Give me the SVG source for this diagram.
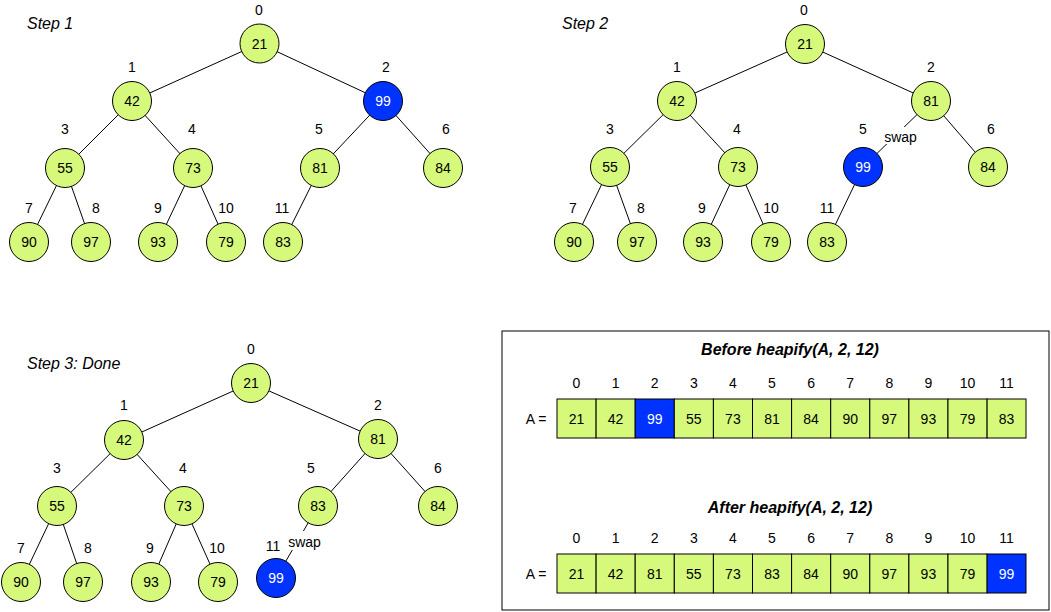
<svg xmlns="http://www.w3.org/2000/svg" width="1051" height="612" viewBox="0 0 1051 612">
<style>
.g{fill:#d6f97c;stroke:#000;stroke-width:1}
.b{fill:#0033ff;stroke:#000;stroke-width:1}
.e{stroke:#000;stroke-width:1;fill:none}
text{font-family:"Liberation Sans",Arial,sans-serif;font-size:14px;text-anchor:middle;fill:#000}
.wt{fill:#fff}
.ttl{font-size:16px;font-style:italic;text-anchor:start}
.hd{font-size:16px;font-style:italic;font-weight:bold}
.bg{fill:#fff;stroke:none}
.box{fill:#fff;stroke:#000;stroke-width:1}
</style>
<rect width="1051" height="612" fill="#fff"/>
<text class="ttl" x="27" y="29">Step 1</text>
<text class="ttl" x="562" y="29">Step 2</text>
<text class="ttl" x="27" y="369">Step 3: Done</text>
<g id="connectors">
<!-- step 1 -->
<line class="e" x1="259.5" y1="43.5" x2="132" y2="101"/>
<line class="e" x1="259.5" y1="43.5" x2="383" y2="101"/>
<line class="e" x1="132" y1="101" x2="65" y2="168"/>
<line class="e" x1="132" y1="101" x2="193" y2="168"/>
<line class="e" x1="383" y1="101" x2="320" y2="168"/>
<line class="e" x1="383" y1="101" x2="443" y2="168"/>
<line class="e" x1="65" y1="168" x2="29" y2="242"/>
<line class="e" x1="65" y1="168" x2="91" y2="242"/>
<line class="e" x1="193" y1="168" x2="158" y2="242"/>
<line class="e" x1="193" y1="168" x2="226" y2="242"/>
<line class="e" x1="320" y1="168" x2="283" y2="242"/>
<!-- step 2 -->
<line class="e" x1="805" y1="44" x2="677" y2="101"/>
<line class="e" x1="805" y1="44" x2="931" y2="101"/>
<line class="e" x1="677" y1="101" x2="610" y2="167"/>
<line class="e" x1="677" y1="101" x2="738" y2="167"/>
<line class="e" x1="931" y1="101" x2="863" y2="167"/>
<line class="e" x1="931" y1="101" x2="988" y2="167"/>
<line class="e" x1="610" y1="167" x2="574" y2="242"/>
<line class="e" x1="610" y1="167" x2="637" y2="242"/>
<line class="e" x1="738" y1="167" x2="703" y2="242"/>
<line class="e" x1="738" y1="167" x2="771" y2="242"/>
<line class="e" x1="863" y1="167" x2="827" y2="242"/>
<rect class="bg" x="883" y="127" width="35" height="17"/>
<text x="900.5" y="142">swap</text>
<!-- step 3 -->
<line class="e" x1="251" y1="383" x2="124" y2="440"/>
<line class="e" x1="251" y1="383" x2="378" y2="439"/>
<line class="e" x1="124" y1="440" x2="57" y2="506"/>
<line class="e" x1="124" y1="440" x2="184" y2="506"/>
<line class="e" x1="378" y1="439" x2="318" y2="506"/>
<line class="e" x1="378" y1="439" x2="438" y2="506"/>
<line class="e" x1="57" y1="506" x2="21" y2="582"/>
<line class="e" x1="57" y1="506" x2="83" y2="582"/>
<line class="e" x1="184" y1="506" x2="151" y2="582"/>
<line class="e" x1="184" y1="506" x2="218" y2="582"/>
<line class="e" x1="318" y1="506" x2="276" y2="578"/>
<rect class="bg" x="287" y="531" width="35" height="19"/>
<text x="304.5" y="547">swap</text>
</g>
<!-- Step 1 nodes -->
<g id="s1n0"><circle class="g" cx="259.5" cy="43.5" r="19.5"/><text x="259.5" y="48.5">21</text><text x="259" y="15">0</text></g>
<g id="s1n1"><circle class="g" cx="132" cy="101" r="19.5"/><text x="132" y="106">42</text><text x="132" y="72">1</text></g>
<g id="s1n2"><circle class="b" cx="383" cy="101" r="19.5"/><text class="wt" x="383" y="106">99</text><text x="386" y="72">2</text></g>
<g id="s1n3"><circle class="g" cx="65" cy="168" r="19.5"/><text x="65" y="173">55</text><text x="65" y="134">3</text></g>
<g id="s1n4"><circle class="g" cx="193" cy="168" r="19.5"/><text x="193" y="173">73</text><text x="192" y="134">4</text></g>
<g id="s1n5"><circle class="g" cx="320" cy="168" r="19.5"/><text x="320" y="173">81</text><text x="319" y="134">5</text></g>
<g id="s1n6"><circle class="g" cx="443" cy="168" r="19.5"/><text x="443" y="173">84</text><text x="446" y="134">6</text></g>
<g id="s1n7"><circle class="g" cx="29" cy="242" r="19.5"/><text x="29" y="247">90</text><text x="29" y="213">7</text></g>
<g id="s1n8"><circle class="g" cx="91" cy="242" r="19.5"/><text x="91" y="247">97</text><text x="96" y="213">8</text></g>
<g id="s1n9"><circle class="g" cx="158" cy="242" r="19.5"/><text x="158" y="247">93</text><text x="158" y="213">9</text></g>
<g id="s1n10"><circle class="g" cx="226" cy="242" r="19.5"/><text x="226" y="247">79</text><text x="226" y="213">10</text></g>
<g id="s1n11"><circle class="g" cx="283" cy="242" r="19.5"/><text x="283" y="247">83</text><text x="282" y="213">11</text></g>
<!-- Step 2 nodes -->
<g id="s2n0"><circle class="g" cx="805" cy="44" r="19.5"/><text x="805" y="49">21</text><text x="804" y="15">0</text></g>
<g id="s2n1"><circle class="g" cx="677" cy="101" r="19.5"/><text x="677" y="106">42</text><text x="677" y="72">1</text></g>
<g id="s2n2"><circle class="g" cx="931" cy="101" r="19.5"/><text x="931" y="106">81</text><text x="931" y="72">2</text></g>
<g id="s2n3"><circle class="g" cx="610" cy="167" r="19.5"/><text x="610" y="172">55</text><text x="610" y="134">3</text></g>
<g id="s2n4"><circle class="g" cx="738" cy="167" r="19.5"/><text x="738" y="172">73</text><text x="737" y="134">4</text></g>
<g id="s2n5"><circle class="b" cx="863" cy="167" r="19.5"/><text class="wt" x="863" y="172">99</text><text x="863" y="134">5</text></g>
<g id="s2n6"><circle class="g" cx="988" cy="167" r="19.5"/><text x="988" y="172">84</text><text x="991" y="134">6</text></g>
<g id="s2n7"><circle class="g" cx="574" cy="242" r="19.5"/><text x="574" y="247">90</text><text x="573" y="213">7</text></g>
<g id="s2n8"><circle class="g" cx="637" cy="242" r="19.5"/><text x="637" y="247">97</text><text x="641" y="213">8</text></g>
<g id="s2n9"><circle class="g" cx="703" cy="242" r="19.5"/><text x="703" y="247">93</text><text x="702" y="213">9</text></g>
<g id="s2n10"><circle class="g" cx="771" cy="242" r="19.5"/><text x="771" y="247">79</text><text x="771" y="213">10</text></g>
<g id="s2n11"><circle class="g" cx="827" cy="242" r="19.5"/><text x="827" y="247">83</text><text x="827" y="213">11</text></g>
<!-- Step 3 nodes -->
<g id="s3n0"><circle class="g" cx="251" cy="383" r="19.5"/><text x="251" y="388">21</text><text x="251" y="354">0</text></g>
<g id="s3n1"><circle class="g" cx="124" cy="440" r="19.5"/><text x="124" y="445">42</text><text x="124" y="410">1</text></g>
<g id="s3n2"><circle class="g" cx="378" cy="439" r="19.5"/><text x="378" y="444">81</text><text x="378" y="410">2</text></g>
<g id="s3n3"><circle class="g" cx="57" cy="506" r="19.5"/><text x="57" y="511">55</text><text x="57" y="473">3</text></g>
<g id="s3n4"><circle class="g" cx="184" cy="506" r="19.5"/><text x="184" y="511">73</text><text x="183" y="473">4</text></g>
<g id="s3n5"><circle class="g" cx="318" cy="506" r="19.5"/><text x="318" y="511">83</text><text x="311" y="473">5</text></g>
<g id="s3n6"><circle class="g" cx="438" cy="506" r="19.5"/><text x="438" y="511">84</text><text x="438" y="473">6</text></g>
<g id="s3n7"><circle class="g" cx="21" cy="582" r="19.5"/><text x="21" y="587">90</text><text x="21" y="553">7</text></g>
<g id="s3n8"><circle class="g" cx="83" cy="582" r="19.5"/><text x="83" y="587">97</text><text x="88" y="553">8</text></g>
<g id="s3n9"><circle class="g" cx="151" cy="582" r="19.5"/><text x="151" y="587">93</text><text x="150" y="553">9</text></g>
<g id="s3n10"><circle class="g" cx="218" cy="582" r="19.5"/><text x="218" y="587">79</text><text x="217" y="553">10</text></g>
<g id="s3n11"><circle class="b" cx="276" cy="578" r="19.5"/><text class="wt" x="276" y="583">99</text><text x="273" y="551">11</text></g>
<!-- Arrays -->
<g id="arrays">
<rect class="box" x="502" y="331" width="547" height="279"/>
<text class="hd" x="790" y="355">Before heapify(A, 2, 12)</text>
<text x="536" y="424">A =</text>
<g id="before">
<rect class="g" x="557" y="399" width="39.1" height="39"/>
<rect class="g" x="596.1" y="399" width="39.1" height="39"/>
<rect class="b" x="635.2" y="399" width="39.1" height="39"/>
<rect class="g" x="674.3" y="399" width="39.1" height="39"/>
<rect class="g" x="713.4" y="399" width="39.1" height="39"/>
<rect class="g" x="752.5" y="399" width="39.1" height="39"/>
<rect class="g" x="791.6" y="399" width="39.1" height="39"/>
<rect class="g" x="830.7" y="399" width="39.1" height="39"/>
<rect class="g" x="869.8" y="399" width="39.1" height="39"/>
<rect class="g" x="908.9" y="399" width="39.1" height="39"/>
<rect class="g" x="948" y="399" width="39.1" height="39"/>
<rect class="g" x="987.1" y="399" width="38.9" height="39"/>
<text x="576.5" y="424">21</text><text x="615.6" y="424">42</text><text class="wt" x="654.7" y="424">99</text><text x="693.8" y="424">55</text><text x="732.9" y="424">73</text><text x="772" y="424">81</text><text x="811.1" y="424">84</text><text x="850.2" y="424">90</text><text x="889.3" y="424">97</text><text x="928.4" y="424">93</text><text x="967.5" y="424">79</text><text x="1006.6" y="424">83</text>
<text x="576.5" y="388">0</text><text x="615.6" y="388">1</text><text x="654.7" y="388">2</text><text x="693.8" y="388">3</text><text x="732.9" y="388">4</text><text x="772" y="388">5</text><text x="811.1" y="388">6</text><text x="850.2" y="388">7</text><text x="889.3" y="388">8</text><text x="928.4" y="388">9</text><text x="967.5" y="388">10</text><text x="1006.6" y="388">11</text>
</g>
<text class="hd" x="790" y="513">After heapify(A, 2, 12)</text>
<text x="536" y="579">A =</text>
<g id="after">
<rect class="g" x="557" y="554" width="39.1" height="39"/>
<rect class="g" x="596.1" y="554" width="39.1" height="39"/>
<rect class="g" x="635.2" y="554" width="39.1" height="39"/>
<rect class="g" x="674.3" y="554" width="39.1" height="39"/>
<rect class="g" x="713.4" y="554" width="39.1" height="39"/>
<rect class="g" x="752.5" y="554" width="39.1" height="39"/>
<rect class="g" x="791.6" y="554" width="39.1" height="39"/>
<rect class="g" x="830.7" y="554" width="39.1" height="39"/>
<rect class="g" x="869.8" y="554" width="39.1" height="39"/>
<rect class="g" x="908.9" y="554" width="39.1" height="39"/>
<rect class="g" x="948" y="554" width="39.1" height="39"/>
<rect class="b" x="987.1" y="554" width="38.9" height="39"/>
<text x="576.5" y="579">21</text><text x="615.6" y="579">42</text><text x="654.7" y="579">81</text><text x="693.8" y="579">55</text><text x="732.9" y="579">73</text><text x="772" y="579">83</text><text x="811.1" y="579">84</text><text x="850.2" y="579">90</text><text x="889.3" y="579">97</text><text x="928.4" y="579">93</text><text x="967.5" y="579">79</text><text class="wt" x="1006.6" y="579">99</text>
<text x="576.5" y="543">0</text><text x="615.6" y="543">1</text><text x="654.7" y="543">2</text><text x="693.8" y="543">3</text><text x="732.9" y="543">4</text><text x="772" y="543">5</text><text x="811.1" y="543">6</text><text x="850.2" y="543">7</text><text x="889.3" y="543">8</text><text x="928.4" y="543">9</text><text x="967.5" y="543">10</text><text x="1006.6" y="543">11</text>
</g>
</g>
</svg>
